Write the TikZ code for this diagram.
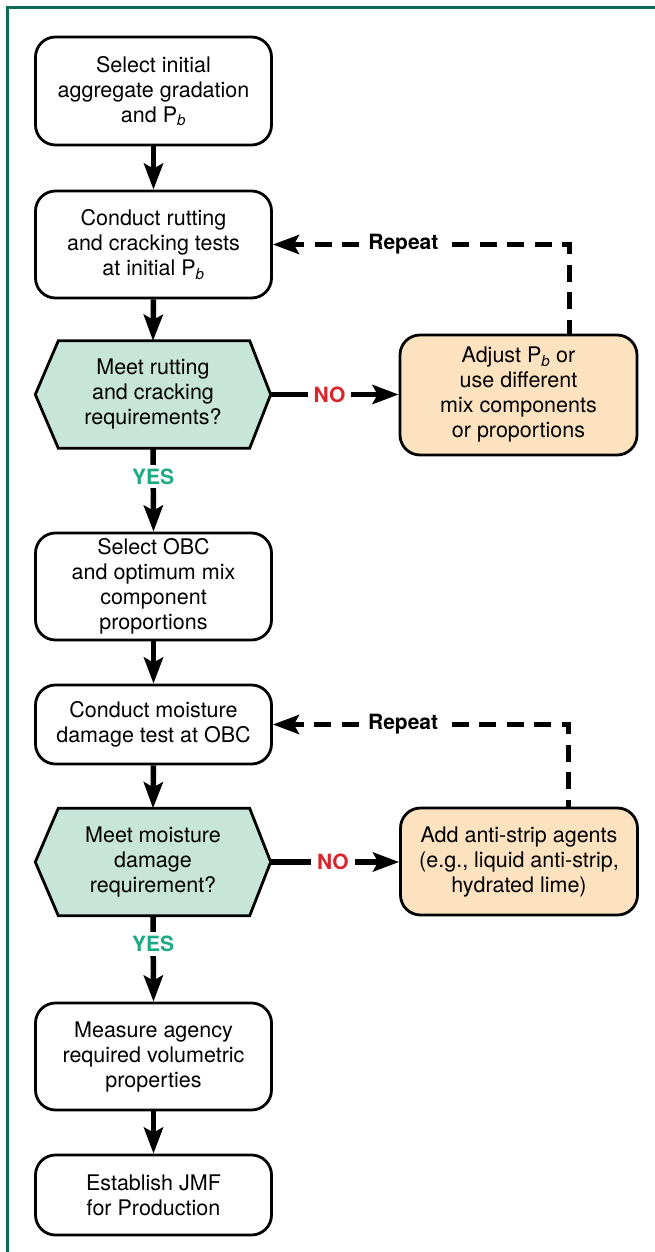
\documentclass[tikz,border=0pt]{standalone}
\usepackage{fontspec}
\setmainfont{TeX Gyre Heros}
\usetikzlibrary{arrows.meta,calc,backgrounds}

\definecolor{framegreen}{RGB}{12,107,86}
\definecolor{mint}{RGB}{199,229,217}
\definecolor{peach}{RGB}{253,226,192}
\definecolor{noRed}{RGB}{218,37,45}
\definecolor{yesGreen}{RGB}{27,170,131}

\newcommand{\Pb}{P\textsubscript{\itshape b}}

\tikzset{
  txt/.style={align=center, inner sep=0pt, font=\fontsize{21.5}{25}\selectfont},
  stepbox/.style={txt, draw=black, line width=2.8pt, rounded corners=20pt,
    fill=white, minimum width=236pt},
  fixbox/.style={stepbox, fill=peach, minimum width=237pt},
  hexnode/.style={txt, minimum width=235pt, minimum height=107pt},
  hexline/.style={draw=black, line width=2.8pt, fill=mint, line join=miter},
  flow/.style={line width=5.5pt, -{Stealth[length=26pt,width=19pt,inset=5pt]}},
  loopback/.style={flow, line width=5pt, dash pattern=on 17pt off 10.5pt},
  lbl/.style={fill=white, inner xsep=6pt, inner ysep=4pt,
    font=\fontsize{21}{25}\selectfont\bfseries},
}

% draws the decision hexagon behind a hexnode
\newcommand{\hexagonbehind}[1]{%
  \begin{scope}[on background layer]
    \path[hexline] (#1.west) -- ($(#1.north west)+(23,0)$)
      -- ($(#1.north east)+(-21,0)$) -- (#1.east)
      -- ($(#1.south east)+(-21,0)$) -- ($(#1.south west)+(23,0)$) -- cycle;
  \end{scope}}

\begin{document}
\begin{tikzpicture}[x=1pt, y=-1pt]
  \useasboundingbox (0,0) rectangle (655,1252);

  % frame
  \draw[framegreen, line width=3pt] (7.5,1262) -- (7.5,7.5) -- (665,7.5);

  % main column
  \node[stepbox, minimum height=108pt] (b1) at (153.5,91)
    {Select initial\\aggregate gradation\\and \Pb};
  \node[stepbox, minimum height=107pt] (b2) at (153.5,244.5)
    {Conduct rutting\\and cracking tests\\at initial \Pb};
  \node[hexnode] (h1) at (153,394.5)
    {Meet rutting\\and cracking\\requirements?};
  \hexagonbehind{h1}
  \node[stepbox, minimum height=107pt] (b3) at (153.5,586.5)
    {Select OBC\\and optimum mix\\component\\proportions};
  \node[stepbox, minimum height=79pt] (b4) at (153.5,724.5)
    {Conduct moisture\\damage test at OBC};
  \node[hexnode] (h2) at (153,862)
    {Meet moisture\\damage\\requirement?};
  \hexagonbehind{h2}
  \node[stepbox, minimum height=107pt] (b5) at (153.5,1056.5)
    {Measure agency\\required volumetric\\properties};
  \node[stepbox, minimum height=80pt] (b6) at (153.5,1195)
    {Establish JMF\\for Production};

  % adjustment boxes
  \node[fixbox, minimum height=120pt] (o1) at (518.5,395)
    {Adjust \Pb{} or\\use different\\mix components\\or proportions};
  \node[fixbox, minimum height=107pt] (o2) at (519,861.5)
    {Add anti-strip agents\\(e.g., liquid anti-strip,\\hydrated lime)};

  % main flow
  \draw[flow] (b1.south) -- (b2.north);
  \draw[flow] (b2.south) -- (h1.north);
  \draw[flow] (h1.south) -- node[lbl, text=yesGreen, pos=0.34]{YES} (b3.north);
  \draw[flow] (b3.south) -- (b4.north);
  \draw[flow] (b4.south) -- (h2.north);
  \draw[flow] (h2.south) -- node[lbl, text=yesGreen, pos=0.33]{YES} (b5.north);
  \draw[flow] (b5.south) -- (b6.north);

  % failed checks
  \draw[flow] (h1.east) -- node[lbl, text=noRed, pos=0.46]{NO} (h1.east -| o1.west);
  \draw[flow] (h2.east) -- node[lbl, text=noRed, pos=0.485]{NO} (h2.east -| o2.west);

  % repeat loops (phase keeps a dash on the corner)
  \coordinate (r1) at ($(o1.north east)+(-69,0)$);
  \coordinate (r2) at ($(o2.north east)+(-70,0)$);
  \draw[loopback, dash phase=3pt] (r1) |- node[lbl, pos=0.78]{Repeat} (b2.east);
  \draw[loopback, dash phase=10pt] (r2) |- node[lbl, pos=0.78]{Repeat} (b4.east);
\end{tikzpicture}
\end{document}
